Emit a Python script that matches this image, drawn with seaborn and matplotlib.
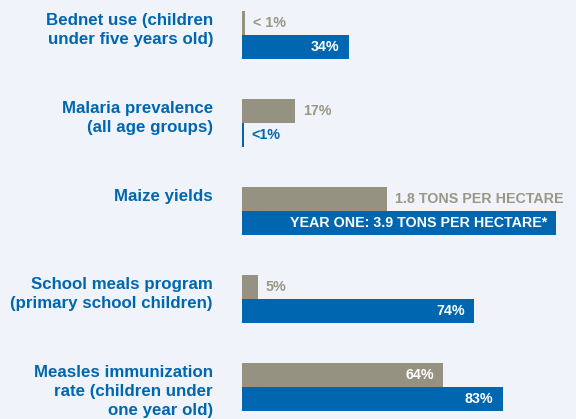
import matplotlib
matplotlib.use("Agg")
import matplotlib.pyplot as plt
import matplotlib.transforms as mtransforms
import pandas as pd
import seaborn as sns

# ---- data -------------------------------------------------------------
categories = [
    "Bednet use (children\nunder five years old)",
    "Malaria prevalence\n(all age groups)",
    "Maize yields",
    "School meals program\n(primary school children)",
    "Measles immunization\nrate (children under\none year old)",
]
periods = ["before", "after"]

# percentages (maize is measured in tons and drawn on its own scale)
pct_before = [0.8, 17, None, 5, 64]
pct_after = [34, 0.5, None, 74, 83]
maize_tons_before = 1.8
maize_tons_after = 3.9

labels_before = ["< 1%", "17%", "1.8 TONS PER HECTARE", "5%", "64%"]
labels_after = ["34%", "<1%", "YEAR ONE: 3.9 TONS PER HECTARE*", "74%", "83%"]
inside_before = [False, False, False, False, True]
inside_after = [True, False, True, True, True]

# ---- style ------------------------------------------------------------
BG = "#F0F4FA"
GRAY = "#959282"
BLUE = "#0066B0"
GRAY_TXT = "#9A9787"

sns.set_theme(style="white")
plt.rcParams["font.family"] = ["Liberation Sans", "DejaVu Sans"]
plt.rcParams["font.weight"] = "bold"

W, H, DPI = 576, 419, 100
fig = plt.figure(figsize=(W / DPI, H / DPI), dpi=DPI, facecolor=BG)

x0_px = 242
ax = fig.add_axes([x0_px / W, 0, (W - x0_px) / W, 1])
ax.set_facecolor(BG)

rows = []
for cat, b, a in zip(categories, pct_before, pct_after):
    if b is not None:
        rows.append((cat, "before", b))
        rows.append((cat, "after", a))
df_pct = pd.DataFrame(rows, columns=["category", "period", "value"])
df_maize = pd.DataFrame(
    [(categories[2], "before", maize_tons_before),
     (categories[2], "after", maize_tons_after)],
    columns=["category", "period", "value"],
)

group_width = 48 / 88
common = dict(y="category", x="value", hue="period", order=categories,
              hue_order=periods, palette=[GRAY, BLUE], width=group_width,
              errorbar=None, saturation=1, legend=False, orient="h",
              linewidth=0, edgecolor="none")

sns.barplot(data=df_pct, ax=ax, **common)
ax2 = ax.twiny()
sns.barplot(data=df_maize, ax=ax2, **common)

px_per_pct = 3.14
ax.set_xlim(0, (W - x0_px) / px_per_pct)
ax2.set_xlim(0, maize_tons_after * (W - x0_px) / 314)
ax.set_ylim(4.364, -0.398)

for a in (ax, ax2):
    a.set_axis_off()

# ---- value labels -----------------------------------------------------
def label_bars(axis, bars, texts, inside_flags, out_color):
    for bar, txt, inside in zip(bars, texts, inside_flags):
        end = bar.get_x() + bar.get_width()
        yc = bar.get_y() + bar.get_height() / 2
        if inside:
            axis.annotate(txt, (end, yc), xytext=(-9, 0), textcoords="offset pixels",
                          ha="right", va="center", color="white",
                          fontsize=10.3, fontweight="bold")
        else:
            axis.annotate(txt, (end, yc), xytext=(8, 0), textcoords="offset pixels",
                          ha="left", va="center", color=out_color,
                          fontsize=10.3, fontweight="bold", annotation_clip=False)

def bars_by_period(axis):
    cont = axis.containers
    return cont[0], cont[1]

b_before, b_after = bars_by_period(ax)
pct_idx = [i for i, v in enumerate(pct_before) if v is not None]
label_bars(ax, list(b_before), [labels_before[i] for i in pct_idx],
           [inside_before[i] for i in pct_idx], GRAY_TXT)
label_bars(ax, list(b_after), [labels_after[i] for i in pct_idx],
           [inside_after[i] for i in pct_idx], BLUE)

m_before, m_after = bars_by_period(ax2)
label_bars(ax2, list(m_before), [labels_before[2]], [inside_before[2]], GRAY_TXT)
label_bars(ax2, list(m_after), [labels_after[2]], [inside_after[2]], BLUE)

# ---- category labels, top-aligned with each bar group -----------------
trans = mtransforms.blended_transform_factory(fig.transFigure, ax.transData)
trans = mtransforms.offset_copy(trans, fig=fig, x=0, y=-2, units="dots")
for i, cat in enumerate(categories):
    ax.text(213 / W, i - group_width / 2, cat, transform=trans,
            ha="right", va="top", multialignment="right", color=BLUE,
            fontsize=12.2, fontweight="bold", linespacing=1.33, clip_on=False)

fig.savefig("out.png", dpi=DPI, facecolor=BG)
